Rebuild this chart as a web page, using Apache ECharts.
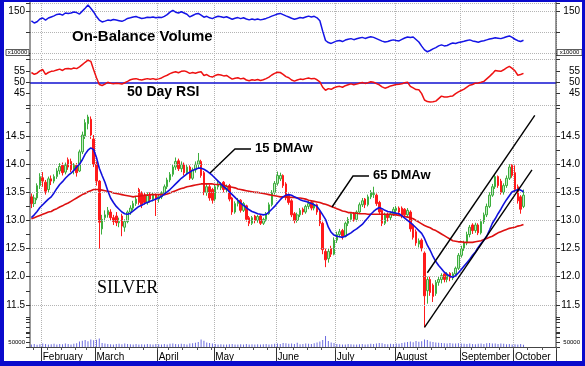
<!DOCTYPE html>
<html>
<head>
<meta charset="utf-8">
<script src="https://cdn.jsdelivr.net/npm/echarts@6.0.0/dist/echarts.min.js"></script>
<style>
html,body{margin:0;padding:0;background:#fff;}
#chart{width:585px;height:366px;}
</style>
</head>
<body>
<div id="chart"></div>
<script>
// ---------- DATA ----------
const monthNames = ['January','February','March','April','May','June','July','August','September','October','November','December'];
const holidays = ['2007-02-19','2007-04-06','2007-05-28','2007-07-04','2007-09-03'];
const firstDay = '2007-01-26';
const axisDays = 186;

// [open, close, low, high]
const ohlc = [
[13.42,13.30,13.22,13.48],[13.30,13.40,13.24,13.46],[13.40,13.62,13.36,13.66],[13.62,13.78,13.56,13.84],
[13.76,13.70,13.60,13.86],[13.68,13.52,13.46,13.72],[13.55,13.74,13.50,13.78],[13.74,13.70,13.63,13.80],
[13.70,13.78,13.66,13.82],[13.78,13.88,13.74,13.93],[13.88,13.96,13.82,14.02],[13.98,13.85,13.80,14.03],
[13.86,13.98,13.82,14.03],[14.08,13.95,13.90,14.12],[14.05,13.90,13.86,14.10],[13.90,13.98,13.82,14.02],
[13.98,13.85,13.78,14.02],[13.88,14.22,13.86,14.26],[14.22,14.52,14.18,14.58],[14.50,14.74,14.45,14.80],
[14.72,14.84,14.62,14.88],[14.80,14.52,14.45,14.85],[14.45,14.00,13.95,14.52],[14.00,13.70,13.62,14.05],
[13.70,12.97,12.50,13.72],[12.85,13.02,12.75,13.10],[13.05,13.10,12.98,13.18],[13.10,13.18,13.05,13.24],
[13.15,13.05,13.00,13.20],[13.05,12.98,12.92,13.10],[13.08,12.96,12.90,13.15],[12.96,12.98,12.88,13.05],
[13.08,12.90,12.72,13.12],[12.88,12.98,12.80,13.02],[12.98,13.15,12.95,13.18],[13.15,13.22,13.10,13.27],
[13.22,13.30,13.18,13.35],[13.30,13.38,13.26,13.42],[13.55,13.32,13.28,13.58],[13.48,13.28,13.22,13.52],
[13.45,13.32,13.28,13.50],[13.32,13.45,13.28,13.50],[13.45,13.38,13.32,13.50],[13.38,13.46,13.34,13.50],
[13.45,13.38,13.08,13.48],[13.38,13.42,13.32,13.46],[13.42,13.48,13.38,13.52],[13.48,13.60,13.45,13.64],
[13.60,13.72,13.56,13.76],[13.72,13.82,13.68,13.86],[13.82,13.95,13.78,14.00],[13.95,14.05,13.90,14.12],
[14.06,13.92,13.88,14.10],[13.92,14.00,13.86,14.05],[14.00,13.85,13.80,14.03],[13.85,13.95,13.82,13.99],
[13.95,13.75,13.72,13.98],[13.75,13.90,13.72,13.94],[13.90,14.00,13.85,14.05],[14.00,14.06,13.92,14.20],
[14.05,13.80,13.76,14.08],[13.85,13.50,13.45,13.88],[13.50,13.60,13.44,13.65],[13.60,13.40,13.35,13.64],
[13.55,13.36,13.30,13.58],[13.38,13.60,13.34,13.64],[13.60,13.65,13.55,13.70],[13.58,13.64,13.54,13.68],
[13.68,13.55,13.50,13.70],[13.55,13.60,13.50,13.64],[13.62,13.38,13.34,13.65],[13.40,13.15,13.10,13.42],
[13.15,13.30,13.12,13.34],[13.30,13.36,13.25,13.40],[13.36,13.18,13.14,13.38],[13.18,13.30,13.15,13.33],
[13.26,13.02,12.98,13.28],[13.05,12.95,12.90,13.08],[12.95,13.05,12.92,13.08],[13.08,13.00,12.95,13.10],
[13.00,13.07,12.96,13.10],[13.08,12.95,12.92,13.10],[12.95,13.02,12.92,13.05],[13.02,13.12,12.98,13.15],
[13.12,13.28,13.10,13.32],[13.28,13.50,13.25,13.54],[13.50,13.66,13.46,13.70],[13.66,13.80,13.62,13.87],
[13.74,13.80,13.70,13.85],[13.80,13.62,13.58,13.82],[13.65,13.40,13.36,13.68],[13.45,13.32,13.28,13.48],
[13.35,13.10,13.06,13.38],[13.12,13.00,12.95,13.15],[13.00,13.10,12.96,13.14],[13.10,13.18,13.06,13.22],
[13.20,13.15,13.10,13.23],[13.15,13.25,13.12,13.28],[13.25,13.30,13.20,13.35],[13.33,13.22,13.18,13.36],
[13.22,13.28,13.18,13.32],[13.28,13.15,13.10,13.30],[13.15,12.95,12.90,13.18],[12.95,12.48,12.40,12.98],
[12.45,12.30,12.17,12.50],[12.32,12.45,12.25,12.50],[12.50,12.40,12.35,12.55],[12.40,12.65,12.38,12.70],
[12.65,12.75,12.60,12.80],[12.75,12.80,12.70,12.85],[12.82,12.72,12.66,12.85],[12.72,12.95,12.70,12.98],
[12.95,13.02,12.90,13.06],[13.02,13.12,12.98,13.15],[13.12,13.02,12.98,13.15],[13.02,13.15,12.98,13.18],
[13.15,13.28,13.12,13.32],[13.28,13.35,13.24,13.40],[13.38,13.28,13.22,13.40],[13.28,13.42,13.25,13.46],
[13.42,13.50,13.38,13.54],[13.46,13.48,13.40,13.60],[13.45,13.30,13.26,13.48],[13.32,13.15,13.10,13.35],
[13.18,12.95,12.90,13.20],[12.95,13.10,12.92,13.14],[13.10,13.05,12.98,13.14],[13.05,13.12,13.00,13.16],
[13.12,13.20,13.08,13.24],[13.18,13.22,13.12,13.26],[13.22,13.15,13.10,13.25],[13.22,13.08,13.04,13.25],
[13.20,13.10,13.05,13.22],[13.10,13.18,13.06,13.22],[13.15,12.85,12.80,13.18],[12.90,12.70,12.66,12.92],
[12.80,12.60,12.55,12.84],[12.58,12.64,12.52,12.68],[12.65,12.50,12.45,12.68],[12.42,11.66,11.10,12.45],
[11.75,11.95,11.52,12.00],[11.95,11.72,11.66,12.00],[11.85,11.65,11.55,11.88],[11.70,11.90,11.66,11.94],
[11.90,11.95,11.84,12.00],[11.95,12.02,11.88,12.06],[12.05,11.95,11.90,12.08],[11.95,12.05,11.90,12.08],
[12.06,11.98,11.92,12.08],[11.98,12.05,11.94,12.08],[12.05,12.15,12.00,12.18],[12.15,12.38,12.12,12.42],
[12.38,12.50,12.34,12.55],[12.50,12.60,12.46,12.64],[12.60,12.75,12.56,12.80],[12.75,12.88,12.70,12.92],
[12.92,12.82,12.76,12.95],[12.82,12.92,12.78,12.96],[12.92,12.78,12.74,12.95],[12.78,12.98,12.75,13.02],
[12.98,13.10,12.94,13.14],[13.10,13.25,13.06,13.30],[13.25,13.45,13.22,13.50],[13.45,13.60,13.42,13.65],
[13.60,13.78,13.56,13.82],[13.78,13.62,13.58,13.80],[13.70,13.50,13.46,13.74],[13.50,13.62,13.46,13.66],
[13.62,13.75,13.58,13.80],[13.75,13.95,13.72,14.00],[13.98,13.80,13.76,14.00],[13.85,13.55,13.50,13.98],
[13.60,13.35,13.30,13.64],[13.42,13.20,13.12,13.45],[13.25,13.45,13.22,13.55]
];

const dma15 = [
13.05,13.10,13.16,13.23,13.28,13.33,13.38,13.42,13.49,13.57,
13.64,13.69,13.75,13.80,13.84,13.89,13.95,14.00,14.08,14.18,
14.25,14.29,14.26,14.12,13.93,13.80,13.68,13.53,13.40,13.32,
13.25,13.20,13.15,13.12,13.11,13.13,13.17,13.21,13.25,13.27,
13.30,13.32,13.34,13.36,13.38,13.40,13.43,13.47,13.51,13.55,
13.60,13.65,13.70,13.75,13.79,13.83,13.86,13.89,13.91,13.93,
13.93,13.91,13.88,13.84,13.80,13.75,13.70,13.65,13.60,13.56,
13.51,13.46,13.41,13.36,13.31,13.27,13.23,13.19,13.16,13.14,
13.12,13.11,13.10,13.11,13.15,13.20,13.25,13.31,13.37,13.42,
13.45,13.46,13.45,13.42,13.40,13.37,13.35,13.34,13.32,13.30,
13.28,13.25,13.18,13.10,13.02,12.88,12.79,12.74,12.72,12.71,
12.70,12.72,12.75,12.78,12.82,12.85,12.89,12.93,12.99,13.05,
13.11,13.16,13.20,13.23,13.21,13.18,13.16,13.15,13.14,13.13,
13.12,13.08,13.04,13.00,12.96,12.92,12.87,12.82,12.77,12.68,
12.56,12.47,12.36,12.27,12.20,12.14,12.08,12.04,12.01,11.99,
12.02,12.07,12.13,12.19,12.25,12.31,12.38,12.44,12.52,12.59,
12.65,12.72,12.83,12.95,13.03,13.12,13.20,13.29,13.37,13.44,
13.51,13.53,13.55,13.54,13.51
];

const dma65 = [
13.03,13.05,13.07,13.09,13.11,13.13,13.15,13.16,13.19,13.21,
13.24,13.26,13.29,13.31,13.34,13.37,13.40,13.43,13.46,13.48,
13.51,13.53,13.55,13.55,13.55,13.54,13.53,13.52,13.51,13.49,
13.48,13.47,13.46,13.45,13.44,13.43,13.42,13.43,13.43,13.44,
13.45,13.45,13.46,13.46,13.46,13.46,13.46,13.46,13.47,13.49,
13.51,13.53,13.55,13.57,13.58,13.60,13.61,13.62,13.63,13.64,
13.65,13.65,13.65,13.65,13.65,13.64,13.64,13.64,13.63,13.61,
13.60,13.59,13.58,13.56,13.55,13.54,13.53,13.52,13.51,13.50,
13.50,13.49,13.48,13.47,13.46,13.45,13.44,13.43,13.42,13.42,
13.42,13.41,13.41,13.41,13.40,13.40,13.39,13.38,13.36,13.35,
13.34,13.33,13.32,13.30,13.29,13.27,13.25,13.23,13.21,13.19,
13.17,13.16,13.14,13.14,13.13,13.13,13.12,13.12,13.12,13.11,
13.11,13.11,13.11,13.11,13.11,13.11,13.11,13.11,13.10,13.10,
13.09,13.08,13.07,13.06,13.05,13.03,13.00,12.97,12.94,12.91,
12.89,12.87,12.84,12.82,12.79,12.76,12.73,12.70,12.67,12.64,
12.63,12.62,12.62,12.61,12.61,12.61,12.61,12.62,12.63,12.64,
12.66,12.68,12.70,12.72,12.75,12.78,12.80,12.82,12.84,12.86,
12.87,12.88,12.90,12.91,12.93
];

const obv = [
145.4,144.4,145.0,146.3,146.8,145.8,146.8,147.3,147.8,148.5,
148.7,148.2,149.2,149.0,149.2,149.7,149.4,148.7,150.1,151.5,
153.0,151.5,149.7,147.5,145.8,144.9,145.3,145.8,145.6,146.1,
145.8,145.5,145.2,145.8,146.6,146.9,147.3,147.5,147.0,146.6,
146.8,147.2,147.0,147.3,146.9,147.2,147.0,147.6,148.4,149.6,
150.5,149.6,149.2,149.8,149.2,148.6,147.3,148.0,148.7,149.0,
148.2,147.2,147.6,146.9,146.5,147.2,147.6,147.4,147.0,147.4,
146.8,146.2,146.7,147.0,146.5,146.9,146.3,145.9,146.3,146.0,
146.3,145.9,146.2,146.6,147.1,147.7,148.2,148.7,149.0,148.4,
147.8,147.3,146.7,146.2,146.6,147.0,146.8,147.3,147.7,147.3,
147.6,146.9,145.5,140.5,136.0,135.0,134.6,135.2,135.8,136.0,
135.5,136.2,136.6,136.9,136.4,136.8,137.2,137.5,137.0,137.4,
137.8,137.5,136.9,136.3,135.7,135.3,135.5,136.0,136.3,136.0,
135.8,136.5,137.2,137.7,137.4,137.7,136.5,135.3,133.3,131.5,
130.6,131.2,132.0,132.6,133.4,133.9,133.4,133.6,134.3,134.8,
134.6,135.0,135.3,135.6,136.0,136.3,135.8,135.5,135.2,135.6,
135.9,136.3,136.7,137.0,137.3,137.1,136.9,137.3,137.8,138.2,
137.5,136.6,135.9,135.5,136.1
];

const rsi = [
54.3,53.5,54.0,55.0,55.6,53.5,54.3,54.8,55.0,55.4,
55.8,55.2,56.0,56.1,55.8,56.3,56.0,56.8,57.8,58.8,
59.7,59.2,55.5,52.0,49.0,48.6,49.2,50.0,49.6,49.4,
49.6,49.5,49.2,49.8,50.4,51.1,51.4,51.6,51.2,51.0,
51.3,51.6,51.3,51.6,51.2,51.5,51.9,52.6,53.1,53.8,
54.3,54.6,54.2,54.8,55.0,54.6,53.9,54.3,54.0,54.4,
54.6,53.0,53.4,52.6,52.3,53.0,53.4,53.2,52.8,53.0,
52.2,51.4,51.8,52.0,51.5,51.8,51.0,50.7,51.1,50.9,
51.2,50.8,51.1,51.6,52.3,53.2,53.9,54.4,54.3,53.5,
52.5,52.0,51.0,50.5,51.0,51.4,51.2,51.6,51.9,51.5,
51.7,51.1,50.2,47.8,46.5,47.2,46.9,47.6,48.0,48.2,
47.8,48.5,48.9,49.3,48.9,49.2,49.6,49.9,49.5,49.8,
50.2,50.0,49.4,48.9,48.0,47.4,47.8,48.4,48.7,49.0,
49.1,49.3,49.8,50.0,48.2,47.5,46.8,46.7,45.0,42.2,
41.5,41.3,41.4,41.7,42.8,43.9,43.5,43.5,43.8,44.0,
45.0,45.8,46.4,47.0,47.9,48.7,49.0,49.6,49.7,50.0,
50.4,51.5,52.6,53.8,55.2,55.0,54.8,55.5,56.3,57.0,
56.1,55.0,53.1,53.4,53.9
];

const volume = [
25000,30000,22000,28000,35000,30000,25000,28000,32000,26000,30000,28000,35000,30000,26000,32000,38000,
55000,62000,70000,58000,75000,68000,72000,85000,
40000,35000,30000,28000,25000,30000,32000,28000,35000,30000,28000,25000,30000,26000,28000,24000,30000,27000,25000,30000,
28000,26000,30000,25000,32000,35000,30000,28000,33000,30000,26000,35000,38000,42000,50000,75000,62000,45000,40000,35000,
30000,25000,28000,26000,24000,28000,30000,26000,25000,28000,24000,30000,26000,28000,25000,27000,24000,28000,30000,26000,28000,32000,
35000,30000,40000,38000,32000,35000,30000,42000,28000,30000,35000,32000,30000,38000,45000,55000,70000,110000,60000,45000,40000,
30000,28000,26000,25000,30000,28000,24000,26000,28000,30000,25000,28000,32000,30000,35000,40000,38000,30000,28000,32000,30000,
35000,32000,40000,45000,50000,55000,48000,60000,52000,58000,75000,70000,55000,50000,45000,42000,40000,38000,35000,40000,36000,34000,38000,
35000,32000,30000,34000,30000,28000,32000,35000,30000,38000,40000,36000,34000,30000,35000,32000,28000,30000,26000,
28000,25000,30000,22000
];

// trend channel: [day index, price]
const channelUpper = [[140, 12.07], [178, 14.87]];
const channelLower = [[139, 11.10], [177, 13.90]];

// tick labels
const obvTicks = [150];
const rsiTicks = [45, 50, 55];
const rsiGuides = [40, 60];
const priceTicks = [11.5, 12.0, 12.5, 13.0, 13.5, 14.0, 14.5];
const volTicks = [50000];

// ---------- CATEGORIES (trading days) ----------
const dates = [];
for (let t = Date.parse(firstDay + 'T00:00:00Z'); dates.length < axisDays; t += 86400000) {
  const dt = new Date(t), wd = dt.getUTCDay(), s = dt.toISOString().slice(0, 10);
  if (wd === 0 || wd === 6 || holidays.includes(s)) continue;
  dates.push(s);
}
const isMonthStart = i => i > 0 && dates[i].slice(5, 7) !== dates[i - 1].slice(5, 7);
const isWeekStart = i => i > 0 && new Date(dates[i] + 'T00:00:00Z').getUTCDay() < new Date(dates[i - 1] + 'T00:00:00Z').getUTCDay();

// ---------- LAYOUT ----------
const L = 30, R = 29;
const FONT = "'Liberation Sans', Arial, sans-serif";
const dotted = { color: '#b4b4b4', type: 'dotted', width: 1 };
const grids = [
  { left: L, right: R, top: 3, height: 50 },
  { left: L, right: R, top: 55, height: 50 },
  { left: L, right: R, top: 108, height: 239 },
  { left: L, right: R, top: 317, height: 30 }
];

function xAxisFor(gi, extra) {
  return Object.assign({
    type: 'category', gridIndex: gi, data: dates, boundaryGap: true,
    axisLine: { show: false }, axisTick: { show: false }, axisLabel: { show: false },
    splitLine: { show: true, interval: i => isMonthStart(i), lineStyle: dotted }
  }, extra || {});
}

function yAxisPair(gi, min, max, interval, ticks, fmt, fs) {
  const base = {
    type: 'value', gridIndex: gi, min: min, max: max, interval: interval,
    axisLine: { show: false },
    axisTick: { show: true, length: 4, lineStyle: { color: '#333' } },
    splitLine: { show: false }
  };
  const lab = v => ticks.some(t => Math.abs(t - v) < 1e-9) ? fmt(v) : '';
  return [
    Object.assign({}, base, { position: 'left', axisLabel: { formatter: lab, fontSize: fs, color: '#000', fontFamily: FONT, margin: 5 } }),
    Object.assign({}, base, { position: 'right', axisLabel: { formatter: lab, fontSize: fs, color: '#000', fontFamily: FONT, margin: 24, align: 'right' } })
  ];
}

const yAxes = [].concat(
  yAxisPair(0, 130, 154, 10, obvTicks, v => String(v), 10),
  yAxisPair(1, 40, 62, 5, rsiTicks, v => String(v), 10),
  yAxisPair(2, 10.75, 15, 0.25, priceTicks, v => v.toFixed(1), 10),
  yAxisPair(3, 0, 300000, 50000, volTicks, v => String(v), 6)
);
yAxes[0].splitLine = { show: true, lineStyle: dotted };
yAxes[1].splitLine = { show: true, lineStyle: dotted };

const option = {
  animation: false,
  backgroundColor: '#ffffff',
  grid: grids,
  xAxis: [
    xAxisFor(0),
    xAxisFor(1),
    xAxisFor(2, {
      axisLine: { show: true, lineStyle: { color: '#444', width: 1 } },
      axisTick: { show: true, interval: i => isMonthStart(i), length: 15, lineStyle: { color: '#333' } },
      axisLabel: {
        show: true, interval: i => isMonthStart(i), align: 'left', margin: 5,
        fontSize: 10, color: '#000', fontFamily: FONT,
        formatter: v => monthNames[parseInt(v.slice(5, 7), 10) - 1]
      }
    }),
    xAxisFor(3, {
      splitLine: { show: false },
      axisTick: { show: true, interval: i => isWeekStart(i), length: 3, lineStyle: { color: '#555' } }
    })
  ],
  yAxis: yAxes,
  series: [
    {
      name: 'On-Balance Volume', type: 'line', xAxisIndex: 0, yAxisIndex: 0, data: obv,
      showSymbol: false, lineStyle: { color: '#1414e6', width: 1.5 }, z: 5
    },
    {
      name: '50 Day RSI', type: 'line', xAxisIndex: 1, yAxisIndex: 2, data: rsi,
      showSymbol: false, lineStyle: { color: '#ee1111', width: 1.5 }, z: 5,
      markLine: {
        silent: true, symbol: 'none', label: { show: false },
        data: [
          { yAxis: 50, lineStyle: { color: '#1010d0', type: 'solid', width: 1.5 } }
        ].concat(rsiGuides.map(v => ({ yAxis: v, lineStyle: dotted })))
      }
    },
    {
      name: 'Volume', type: 'bar', xAxisIndex: 3, yAxisIndex: 6, data: volume,
      barWidth: 1, itemStyle: { color: '#6c6ce0' }, z: 1
    },
    {
      name: 'Silver', type: 'candlestick', xAxisIndex: 2, yAxisIndex: 4, data: ohlc,
      barWidth: '72%',
      itemStyle: { color: '#c4ebc4', color0: '#ff1a1a', borderColor: '#3dae3d', borderColor0: '#ff1a1a', borderWidth: 1 },
      z: 2,
      markLine: {
        silent: true, symbol: 'none', label: { show: false }, lineStyle: dotted,
        data: priceTicks.map(v => ({ yAxis: v }))
      }
    },
    {
      name: '65 DMAw', type: 'line', xAxisIndex: 2, yAxisIndex: 4, data: dma65,
      showSymbol: false, lineStyle: { color: '#dd1111', width: 1.6 }, z: 4
    },
    {
      name: '15 DMAw', type: 'line', xAxisIndex: 2, yAxisIndex: 4, data: dma15,
      showSymbol: false, lineStyle: { color: '#1111dd', width: 1.6 }, z: 5
    },
    {
      name: 'Channel upper', type: 'line', xAxisIndex: 2, yAxisIndex: 4, data: channelUpper,
      showSymbol: false, lineStyle: { color: '#000', width: 1.4 }, z: 6
    },
    {
      name: 'Channel lower', type: 'line', xAxisIndex: 2, yAxisIndex: 4, data: channelLower,
      showSymbol: false, lineStyle: { color: '#000', width: 1.4 }, z: 6
    }
  ],
  graphic: [
    // axis frame lines
    { type: 'line', shape: { x1: 30, y1: 2, x2: 30, y2: 347 }, style: { stroke: '#333', lineWidth: 1 }, z: 50 },
    { type: 'line', shape: { x1: 556, y1: 2, x2: 556, y2: 347 }, style: { stroke: '#333', lineWidth: 1 }, z: 50 },
    // panel titles
    { type: 'text', x: 72, y: 37, z: 60, style: { text: 'On-Balance Volume', font: "bold 15px " + FONT, fill: '#000', align: 'left', verticalAlign: 'middle', textAlign: 'left', textVerticalAlign: 'middle' } },
    { type: 'text', x: 127, y: 92, z: 60, style: { text: '50 Day RSI', font: "bold 14px " + FONT, fill: '#000', align: 'left', verticalAlign: 'middle', textAlign: 'left', textVerticalAlign: 'middle' } },
    { type: 'text', x: 97, y: 288, z: 60, style: { text: 'SILVER', font: "18px 'Liberation Serif', 'Times New Roman', serif", fill: '#000', align: 'left', verticalAlign: 'middle', textAlign: 'left', textVerticalAlign: 'middle' } },
    { type: 'text', x: 255, y: 148, z: 60, style: { text: '15 DMAw', font: "bold 13px " + FONT, fill: '#000', align: 'left', verticalAlign: 'middle', textAlign: 'left', textVerticalAlign: 'middle' } },
    { type: 'text', x: 373, y: 175, z: 60, style: { text: '65 DMAw', font: "bold 13px " + FONT, fill: '#000', align: 'left', verticalAlign: 'middle', textAlign: 'left', textVerticalAlign: 'middle' } },
    // leader lines
    { type: 'polyline', z: 60, shape: { points: [[210, 173], [235, 149], [251, 149]] }, style: { stroke: '#000', lineWidth: 1.4, fill: null } },
    { type: 'polyline', z: 60, shape: { points: [[332, 207], [353, 176], [369, 176]] }, style: { stroke: '#000', lineWidth: 1.4, fill: null } },
    // x10000 boxes
    { type: 'rect', z: 60, shape: { x: 6, y: 49.5, width: 23, height: 6 }, style: { fill: '#fff', stroke: '#333', lineWidth: 0.8 } },
    { type: 'text', x: 17.5, y: 52.5, z: 61, style: { text: 'x10000', font: "6px " + FONT, fill: '#000', align: 'center', verticalAlign: 'middle', textAlign: 'center', textVerticalAlign: 'middle' } },
    { type: 'rect', z: 60, shape: { x: 557, y: 49.5, width: 25, height: 6 }, style: { fill: '#fff', stroke: '#333', lineWidth: 0.8 } },
    { type: 'text', x: 569.5, y: 52.5, z: 61, style: { text: 'x10000', font: "6px " + FONT, fill: '#000', align: 'center', verticalAlign: 'middle', textAlign: 'center', textVerticalAlign: 'middle' } },
    // blue outer frame
    { type: 'rect', z: 70, shape: { x: 0, y: 0, width: 4, height: 366 }, style: { fill: '#0a0acc' } },
    { type: 'rect', z: 70, shape: { x: 0, y: 0, width: 585, height: 2 }, style: { fill: '#0a0acc' } },
    { type: 'rect', z: 70, shape: { x: 582, y: 0, width: 3, height: 366 }, style: { fill: '#0a0acc' } },
    { type: 'rect', z: 70, shape: { x: 0, y: 361, width: 585, height: 5 }, style: { fill: '#0a0acc' } }
  ]
};

const chart = echarts.init(document.getElementById('chart'), null, { renderer: 'canvas', width: 585, height: 366 });
chart.setOption(option);
</script>
</body>
</html>
